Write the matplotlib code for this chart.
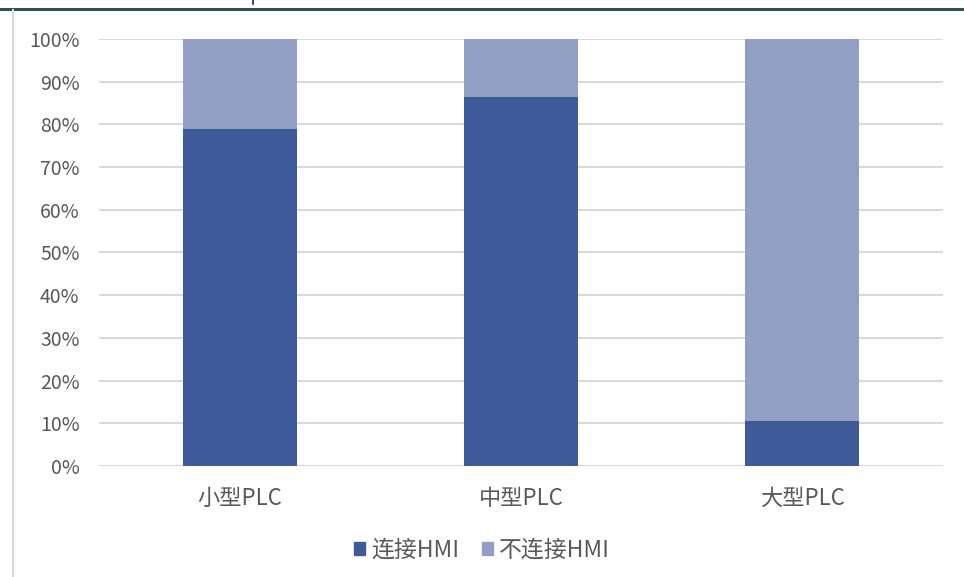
import matplotlib.pyplot as plt
import numpy as np
from matplotlib.lines import Line2D
from matplotlib.patches import Patch

plt.rcParams['font.family'] = ['Noto Sans CJK SC', 'DejaVu Sans']
plt.rcParams['font.weight'] = 'light'

# %% Data
categories = ['小型PLC', '中型PLC', '大型PLC']
connected = [79.0, 86.5, 10.5]          # 连接HMI (%)
not_connected = [100 - v for v in connected]
series_names = ['连接HMI', '不连接HMI']
colors = ['#3F5A98', '#929FC4']
yticks = np.arange(0, 101, 10)

# %% Figure
fig = plt.figure(figsize=(9.64, 5.77), dpi=100)
ax = fig.add_axes([99 / 964, 1 - 466 / 577, 844 / 964, 427 / 577])

x = np.arange(len(categories))
ax.bar(x, connected, width=0.405, color=colors[0], zorder=3)
ax.bar(x, not_connected, width=0.405, bottom=connected, color=colors[1], zorder=3)

ax.set_xlim(-0.5, len(categories) - 0.5)
ax.set_ylim(0, 100)
ax.set_yticks(yticks)
ax.set_yticklabels([f'{v}%' for v in yticks])
ax.set_xticks(x)
ax.set_xticklabels(categories)
ax.grid(axis='y', color='#D9D9D9', linewidth=1.5, zorder=0)
ax.tick_params(length=0, colors='#595959')
ax.tick_params(axis='x', pad=15, labelsize=16)
ax.tick_params(axis='y', pad=14, labelsize=14)
for s in ax.spines.values():
    s.set_visible(False)

handles = [Patch(color=c) for c in colors]
fig.legend(handles, series_names, loc='center', bbox_to_anchor=(0.5, 1 - 550 / 577),
           ncol=2, frameon=False, fontsize=16.5, labelcolor='#595959',
           handlelength=0.5, handleheight=0.5, handletextpad=0.25, columnspacing=1.0)

# frame lines around the chart
fig.add_artist(Line2D([0, 1], [1 - 9 / 577] * 2, color='#2E5350', linewidth=2.2))
fig.add_artist(Line2D([12.5 / 964] * 2, [0, 1 - 10 / 577], color='#D9D9D9', linewidth=1.5))
fig.add_artist(Line2D([253 / 964] * 2, [1, 1 - 4 / 577], color='#222222', linewidth=1.2))

fig.savefig('out.png', dpi=100)
